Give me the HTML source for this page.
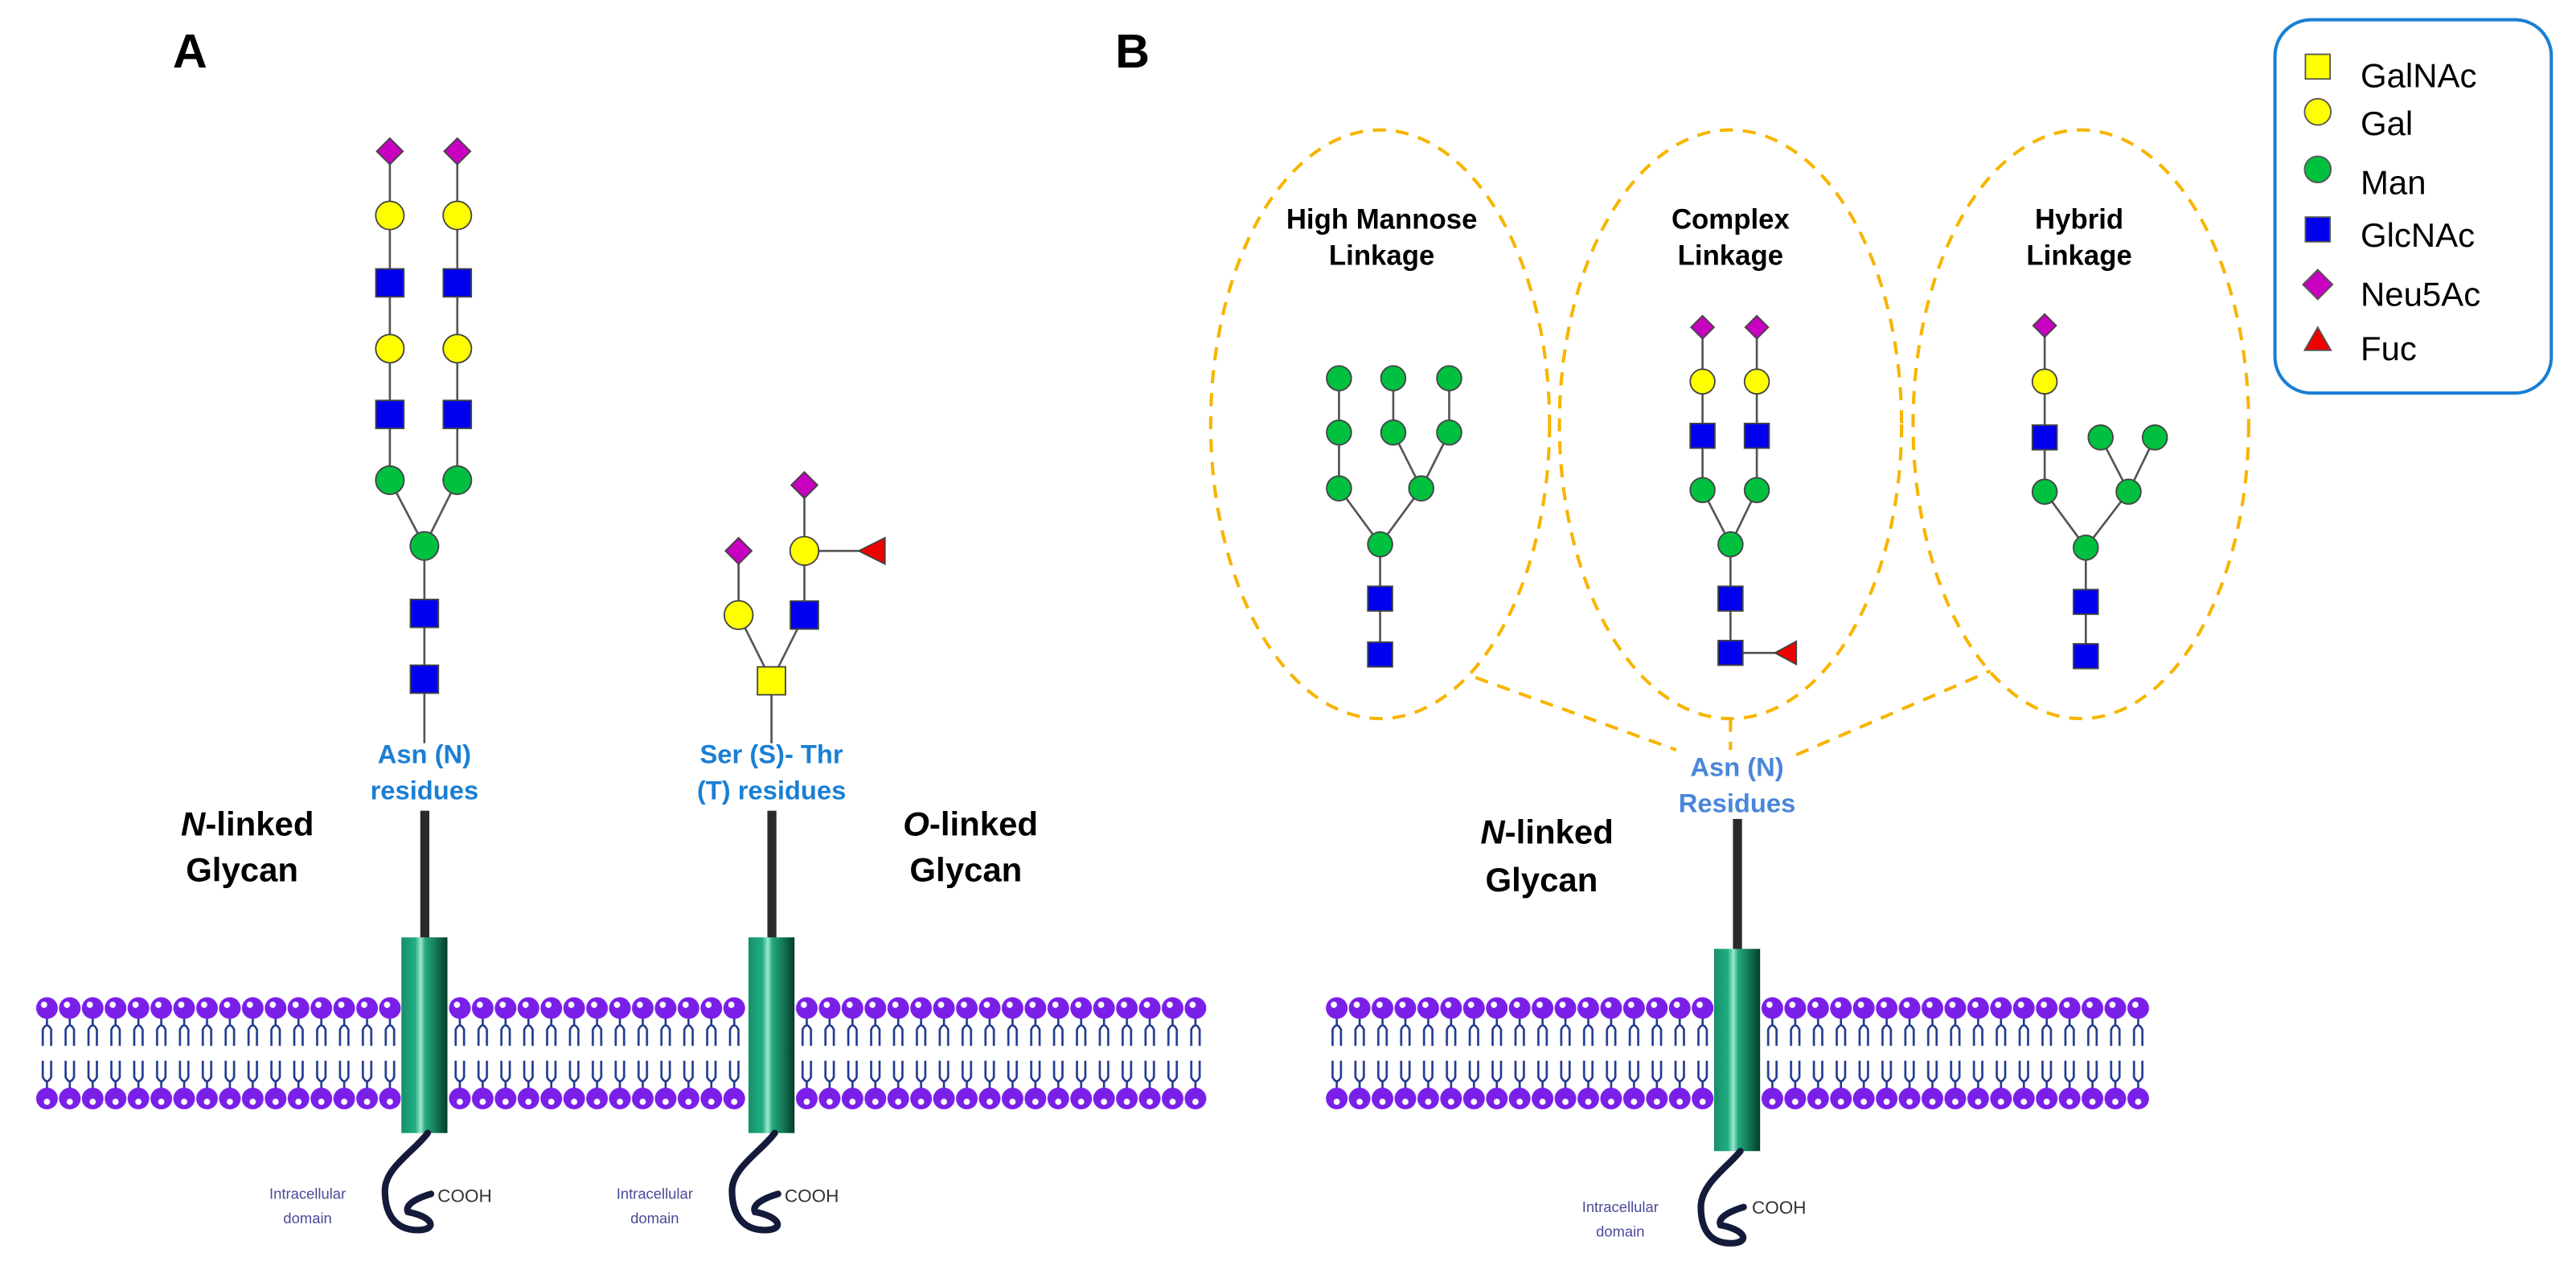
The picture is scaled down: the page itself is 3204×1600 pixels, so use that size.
<!DOCTYPE html>
<html><head><meta charset="utf-8"><style>
html,body{margin:0;padding:0;background:#fff;}
svg{display:block;}
text{font-family:"Liberation Sans",Arial,sans-serif;}
</style></head><body>
<svg width="3204" height="1600" viewBox="0 0 1566 782" xmlns="http://www.w3.org/2000/svg">
<defs>
<pattern id="lip" x="0" y="600" width="13.9" height="80" patternUnits="userSpaceOnUse">
  <g stroke="#1f3a8f" stroke-width="1.3" fill="none">
    <path d="M6.95,19 V24 M4.4,36 V26 Q6.95,21 9.5,26 V36"/>
    <path d="M6.95,62 V57 M4.4,45 V55 Q6.95,60 9.5,55 V45"/>
  </g>
  <circle cx="6.95" cy="13" r="6.6" fill="#7a1fe8"/>
  <circle cx="5.2" cy="11" r="1.9" fill="#fff"/>
  <circle cx="6.95" cy="68" r="6.6" fill="#7a1fe8"/>
  <circle cx="6.95" cy="70" r="1.9" fill="#fff"/>
</pattern>
<linearGradient id="cyl" x1="0" x2="1" y1="0" y2="0">
  <stop offset="0" stop-color="#178f69"/>
  <stop offset="0.3" stop-color="#21ad83"/>
  <stop offset="0.42" stop-color="#9fe8cc"/>
  <stop offset="0.52" stop-color="#24a980"/>
  <stop offset="0.8" stop-color="#0f6d4d"/>
  <stop offset="1" stop-color="#073a28"/>
</linearGradient>
</defs>

<!-- membranes -->
<g transform="translate(21.6,0)"><rect x="0" y="600" width="222.4" height="80" fill="url(#lip)"/></g>
<g transform="translate(272.6,0)"><rect x="0" y="600" width="180.7" height="80" fill="url(#lip)"/></g>
<g transform="translate(483.5,0)"><rect x="0" y="600" width="250.2" height="80" fill="url(#lip)"/></g>
<g transform="translate(805.7,0)"><rect x="0" y="600" width="236.3" height="80" fill="url(#lip)"/></g>
<g transform="translate(1070.5,0)"><rect x="0" y="600" width="236.3" height="80" fill="url(#lip)"/></g>

<!-- Titles -->
<text x="105" y="41" font-size="29" font-weight="bold">A</text>
<text x="678" y="41" font-size="29" font-weight="bold">B</text>

<!-- Panel A glycans -->
<g stroke="#555" stroke-width="1.3" fill="none">
  <path d="M237,92 V292 L258,332 L278,292 V92 M258,332 V452"/>
  <path d="M469,414 L449,374 V335 M469,414 L489,374 V295 M489,335 H530 M469,414 V452"/>
</g>
<g stroke="#444" stroke-width="0.9">
  <polygon points="237,84 245,92 237,100 229,92" fill="#c800c0"/>
  <polygon points="278,84 286,92 278,100 270,92" fill="#c800c0"/>
  <circle cx="237" cy="131" r="8.6" fill="#ffff00"/>
  <circle cx="278" cy="131" r="8.6" fill="#ffff00"/>
  <rect x="228.5" y="163.5" width="17" height="17" fill="#0000ee"/>
  <rect x="269.5" y="163.5" width="17" height="17" fill="#0000ee"/>
  <circle cx="237" cy="212" r="8.6" fill="#ffff00"/>
  <circle cx="278" cy="212" r="8.6" fill="#ffff00"/>
  <rect x="228.5" y="243.5" width="17" height="17" fill="#0000ee"/>
  <rect x="269.5" y="243.5" width="17" height="17" fill="#0000ee"/>
  <circle cx="237" cy="292" r="8.6" fill="#00c040"/>
  <circle cx="278" cy="292" r="8.6" fill="#00c040"/>
  <circle cx="258" cy="332" r="8.6" fill="#00c040"/>
  <rect x="249.5" y="364.5" width="17" height="17" fill="#0000ee"/>
  <rect x="249.5" y="404.5" width="17" height="17" fill="#0000ee"/>
  <polygon points="449,327 457,335 449,343 441,335" fill="#c800c0"/>
  <polygon points="489,287 497,295 489,303 481,295" fill="#c800c0"/>
  <circle cx="449" cy="374" r="8.7" fill="#ffff00"/>
  <circle cx="489" cy="335" r="8.7" fill="#ffff00"/>
  <rect x="480.5" y="365.5" width="17" height="17" fill="#0000ee"/>
  <rect x="460.5" y="405.5" width="17" height="17" fill="#ffff00"/>
  <polygon points="522,335 538,327 538,343" fill="#ee0000"/>
</g>
<g font-weight="bold" font-size="16" fill="#1a7fd4" text-anchor="middle">
  <text x="258" y="464">Asn (N)</text>
  <text x="258" y="486">residues</text>
  <text x="469" y="464">Ser (S)- Thr</text>
  <text x="469" y="486">(T) residues</text>
</g>
<g font-weight="bold" font-size="20.5" fill="#000">
  <text x="110" y="508"><tspan font-style="italic">N</tspan>-linked</text>
  <text x="113" y="536">Glycan</text>
  <text x="549" y="508"><tspan font-style="italic">O</tspan>-linked</text>
  <text x="553" y="536">Glycan</text>
  <text x="900" y="513"><tspan font-style="italic">N</tspan>-linked</text>
  <text x="903" y="542">Glycan</text>
</g>

<!-- stalks, cylinders, coils -->
<g>
  <rect x="255.5" y="493" width="5.5" height="78" fill="#2a2a2a"/>
  <rect x="466.5" y="493" width="5.5" height="78" fill="#2a2a2a"/>
  <rect x="1053.5" y="498" width="5.5" height="80" fill="#2a2a2a"/>
  <rect x="244" y="570" width="28" height="119" fill="url(#cyl)"/>
  <rect x="455" y="570" width="28" height="119" fill="url(#cyl)"/>
  <rect x="1042" y="577" width="28" height="123" fill="url(#cyl)"/>
</g>
<g fill="none" stroke="#141a3a" stroke-width="4" stroke-linecap="round">
  <path d="M260,689 C252,700 234,710 234,724 C234,738 240,748 254,748 C266,748 264,740 248,737 C246,733 252,729 262,726"/>
  <path d="M471,689 C463,700 445,710 445,724 C445,738 451,748 465,748 C477,748 475,740 459,737 C457,733 463,729 473,726"/>
  <path d="M1058,700 C1050,710 1034,720 1034,734 C1034,748 1040,756 1052,756 C1064,756 1062,748 1046,745 C1044,741 1050,737 1060,734"/>
</g>
<g font-size="9" fill="#4a4a9a" text-anchor="middle">
  <text x="187" y="729">Intracellular</text>
  <text x="187" y="744">domain</text>
  <text x="398" y="729">Intracellular</text>
  <text x="398" y="744">domain</text>
  <text x="985" y="737">Intracellular</text>
  <text x="985" y="752">domain</text>
</g>
<g font-size="11" fill="#333">
  <text x="266" y="731">COOH</text>
  <text x="477" y="731">COOH</text>
  <text x="1065" y="738">COOH</text>
</g>

<!-- Panel B ellipses -->
<g fill="none" stroke="#f7b500" stroke-width="2" stroke-dasharray="8,6">
  <ellipse cx="839" cy="258" rx="103" ry="179"/>
  <ellipse cx="1052" cy="258" rx="104" ry="179"/>
  <ellipse cx="1265" cy="258" rx="102" ry="179"/>
  <path d="M897,412 L1019,456"/>
  <path d="M1052,437 V456"/>
  <path d="M1092,459 L1210,408"/>
</g>
<g font-weight="bold" font-size="17" fill="#000" text-anchor="middle">
  <text x="840" y="139">High Mannose</text>
  <text x="840" y="161">Linkage</text>
  <text x="1052" y="139">Complex</text>
  <text x="1052" y="161">Linkage</text>
  <text x="1264" y="139">Hybrid</text>
  <text x="1264" y="161">Linkage</text>
</g>
<g font-weight="bold" font-size="16" fill="#4a86d8" text-anchor="middle">
  <text x="1056" y="472">Asn (N)</text>
  <text x="1056" y="494">Residues</text>
</g>

<!-- Panel B glycans -->
<g stroke="#555" stroke-width="1.3" fill="none">
  <path d="M814,230 V297 L839,331 L864,297 L847,263 V230 M864,297 L881,263 V230 M839,331 V398"/>
  <path d="M1035,199 V298 L1052,331 L1068,298 V199 M1052,331 V397 H1085"/>
  <path d="M1243,198 V299 L1268,333 L1294,299 L1277,266 M1294,299 L1310,266 M1268,333 V399"/>
</g>
<g stroke="#444" stroke-width="0.9">
  <g fill="#00c040">
    <circle cx="814" cy="230" r="7.5"/><circle cx="847" cy="230" r="7.5"/><circle cx="881" cy="230" r="7.5"/>
    <circle cx="814" cy="263" r="7.5"/><circle cx="847" cy="263" r="7.5"/><circle cx="881" cy="263" r="7.5"/>
    <circle cx="814" cy="297" r="7.5"/><circle cx="864" cy="297" r="7.5"/><circle cx="839" cy="331" r="7.5"/>
    <circle cx="1035" cy="298" r="7.5"/><circle cx="1068" cy="298" r="7.5"/><circle cx="1052" cy="331" r="7.5"/>
    <circle cx="1243" cy="299" r="7.5"/><circle cx="1294" cy="299" r="7.5"/><circle cx="1277" cy="266" r="7.5"/><circle cx="1310" cy="266" r="7.5"/><circle cx="1268" cy="333" r="7.5"/>
  </g>
  <g fill="#0000ee">
    <rect x="831.5" y="356.5" width="15" height="15"/><rect x="831.5" y="390.5" width="15" height="15"/>
    <rect x="1027.5" y="257.5" width="15" height="15"/><rect x="1060.5" y="257.5" width="15" height="15"/>
    <rect x="1044.5" y="356.5" width="15" height="15"/><rect x="1044.5" y="389.5" width="15" height="15"/>
    <rect x="1235.5" y="258.5" width="15" height="15"/>
    <rect x="1260.5" y="358.5" width="15" height="15"/><rect x="1260.5" y="391.5" width="15" height="15"/>
  </g>
  <g fill="#ffff00">
    <circle cx="1035" cy="232" r="7.5"/><circle cx="1068" cy="232" r="7.5"/><circle cx="1243" cy="232" r="7.5"/>
  </g>
  <g fill="#c800c0">
    <polygon points="1035,192 1042,199 1035,206 1028,199"/>
    <polygon points="1068,192 1075,199 1068,206 1061,199"/>
    <polygon points="1243,191 1250,198 1243,205 1236,198"/>
  </g>
  <polygon points="1079,397 1092,390 1092,404" fill="#ee0000"/>
</g>

<!-- Legend -->
<rect x="1383" y="12" width="168" height="227" rx="22" ry="22" fill="#fff" stroke="#1a7fd4" stroke-width="2"/>
<g stroke="#555" stroke-width="0.9">
  <rect x="1401.5" y="33" width="15" height="15" fill="#ffff00"/>
  <circle cx="1409" cy="68" r="8" fill="#ffff00"/>
  <circle cx="1409" cy="103" r="8" fill="#00c040"/>
  <rect x="1401.5" y="132" width="15" height="15" fill="#0000ee"/>
  <polygon points="1409,164 1418,173 1409,182 1400,173" fill="#c800c0"/>
  <polygon points="1401,213 1417,213 1409,199" fill="#ee0000"/>
</g>
<g font-size="20.5" fill="#000">
  <text x="1435" y="53">GalNAc</text>
  <text x="1435" y="82">Gal</text>
  <text x="1435" y="118">Man</text>
  <text x="1435" y="150">GlcNAc</text>
  <text x="1435" y="186">Neu5Ac</text>
  <text x="1435" y="219">Fuc</text>
</g>
</svg>
</body></html>
